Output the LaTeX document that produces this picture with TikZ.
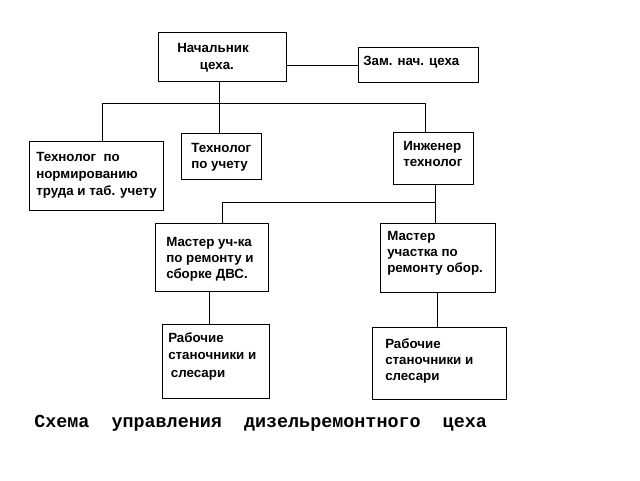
\documentclass[tikz,border=0pt]{standalone}
\usepackage{fontspec}
\setmainfont{Liberation Sans}
\newfontfamily\capfont{Liberation Mono}
\begin{document}
\begin{tikzpicture}[x=0.75pt,y=-0.75pt,font=\bfseries\fontsize{10}{12}\selectfont,
    box/.style={draw,line width=0.75pt,inner sep=0pt,anchor=north west},
    sz/.style n args={2}{minimum width=#1*0.75pt,minimum height=#2*0.75pt},
    txt/.style={anchor=north west,align=left,inner sep=0pt},
    link/.style={line width=0.75pt}]
    \useasboundingbox (0,0) rectangle (640,480);
    % boxes
    \node[box,sz={128}{49}] (chief) at (158,32) {};
    \node[box,sz={120}{35}] (deputy) at (358,47) {};
    \node[box,sz={134}{69}] (tech1) at (29,141) {};
    \node[box,sz={80}{46}] (tech2) at (181,133) {};
    \node[box,sz={80}{52}] (eng) at (393,132) {};
    \node[box,sz={113}{68}] (mast1) at (155,223) {};
    \node[box,sz={115}{69}] (mast2) at (380,223) {};
    \node[box,sz={107}{74}] (work1) at (162,324) {};
    \node[box,sz={134}{72}] (work2) at (372,327) {};
    % texts
    \node[txt] (chiefT) at (177,43) {Начальник\\[0.75pt]\hspace*{17pt}цеха.};
    \node[txt] (deputyT) at (363,56) {Зам. нач. цеха};
    \node[txt] (tech1T) at (36,152) {Технолог\ \ по\\[0.75pt]нормированию\\[0.75pt]труда и таб. учету};
    \node[txt] (tech2T) at (191,143) {Технолог\\по учету};
    \node[txt] (engT) at (403,141) {Инженер\\технолог};
    \node[txt] (mast1T) at (166,237) {Мастер уч-ка\\по ремонту и\\сборке ДВС.};
    \node[txt] (mast2T) at (387,231) {Мастер\\участка по\\ремонту обор.};
    \node[txt] (work1T) at (168,332) {Рабочие\\[0.75pt]станочники и\\[2pt]\hspace*{2pt}слесари};
    \node[txt] (work2T) at (385,338) {Рабочие\\станочники и\\слесари};
    \node[anchor=west,inner sep=0pt,font=\capfont\bfseries\fontsize{13.8}{16}\selectfont] (title) at (34,423)
        {Схема~~управления~~дизельремонтного~~цеха};
    % connectors
    \coordinate (busC) at (219,103);
    \coordinate (busL) at (102,103);
    \coordinate (busR) at (425,103);
    \coordinate (bus2L) at (222,202);
    \coordinate (bus2R) at (435,202);
    \coordinate (drop1) at (209,300);
    \coordinate (drop2) at (437,300);
    \draw[link] (chief.east |- deputy.west) -- (deputy.west);
    \draw[link] (chief.south -| busC) -- (tech2.north -| busC);
    \draw[link] (tech1.north -| busL) -- (busL) -- (busR) -- (eng.north -| busR);
    \draw[link] (eng.south -| bus2R) -- (mast2.north -| bus2R);
    \draw[link] (bus2R) -- (bus2L) -- (mast1.north -| bus2L);
    \draw[link] (mast1.south -| drop1) -- (work1.north -| drop1);
    \draw[link] (mast2.south -| drop2) -- (work2.north -| drop2);
\end{tikzpicture}
\end{document}
